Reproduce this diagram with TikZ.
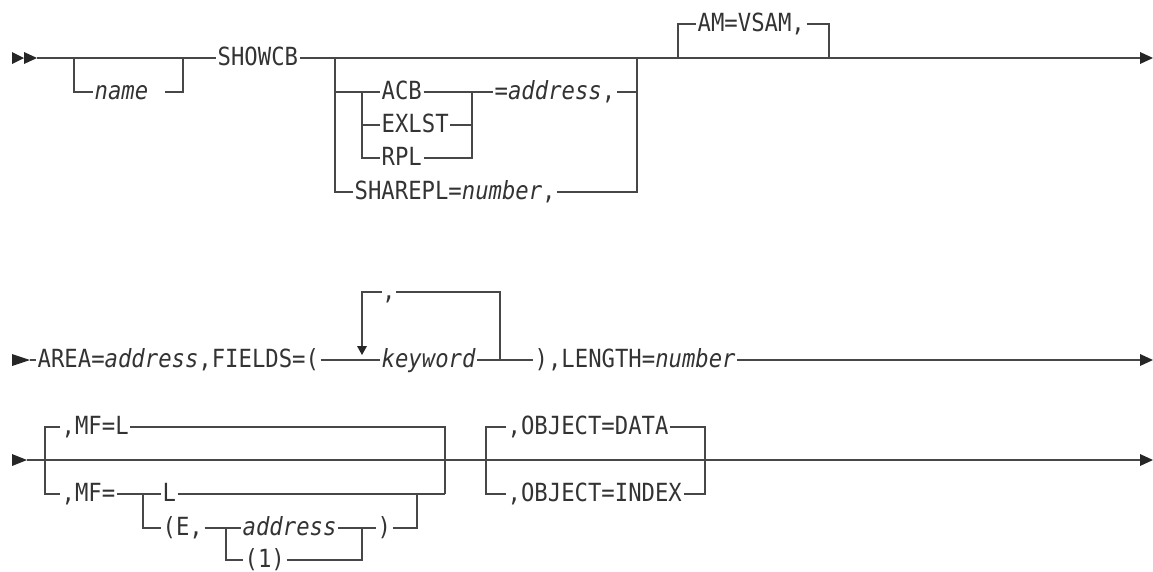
\documentclass[tikz,border=0pt]{standalone}
\usepackage{fontspec}
\setmonofont{DejaVu Sans Mono}[FakeStretch=0.89]
\definecolor{linec}{gray}{0.28}
\definecolor{txtc}{gray}{0.2}
\tikzset{
  kw/.style={anchor=west, inner xsep=1.5pt, inner ysep=0pt, text height=18pt, text depth=4pt,
    font=\ttfamily\fontsize{25}{30}\selectfont, text=txtc},
  rr/.style={line width=1.3pt, draw=linec, line cap=butt},
  tip/.style={fill=black!85, draw=none},
}
\begin{document}
\begin{tikzpicture}[x=1pt,y=-1pt]
\useasboundingbox (0,0) rectangle (1153,571);
% ---------------- row 1 ----------------
\fill[tip] (12,52) -- (24,58) -- (12,64) -- cycle;
\fill[tip] (24,52) -- (37,58) -- (24,64) -- cycle;
\coordinate (s1) at (37,58);
\coordinate (ja) at (74,58);
\node[kw] (name) at (93,92) {\itshape name};
\coordinate (n1) at (165,92);
\coordinate (n2) at (183,92);
\coordinate (n3) at (183,58);
\node[kw] (showcb) at (216,58) {SHOWCB};
\draw[rr] (s1) -- (showcb.west);
\draw[rr] (ja) |- (name.west);
\draw[rr] (n1) -- (n2) -- (n3);
\coordinate (e1) at (1141,58);
\draw[rr] (showcb.east) -- (e1);
\fill[tip] (1140,52) -- (1153,58) -- (1140,64) -- cycle;
% choice block
\coordinate (b1) at (335,58);
\coordinate (b1a) at (335,92);
\coordinate (b2) at (362,92);
\node[kw] (acb) at (380,92) {ACB};
\node[kw] (exlst) at (380,125) {EXLST};
\node[kw] (rpl) at (380,158) {RPL};
\node[kw] (share) at (353,192) {SHAREPL=\textit{number},};
\draw[rr] (b1) |- (share.west);
\draw[rr] (b1a) -- (acb.west);
\draw[rr] (b2) |- (exlst.west);
\draw[rr] (b2) |- (rpl.west);
\coordinate (c1) at (472,92);
\draw[rr] (acb.east) -- (c1);
\draw[rr] (exlst.east) -| (c1);
\draw[rr] (rpl.east) -| (c1);
\node[kw] (addr) at (493,92) {=\textit{address},};
\draw[rr] (c1) -- (addr.west);
\coordinate (c2) at (637,58);
\draw[rr] (addr.east) -| (c2);
\draw[rr] (share.east) -| (c2);
% AM=VSAM
\coordinate (d1) at (678,58);
\node[kw] (am) at (696,24) {AM=VSAM,};
\coordinate (d2) at (829,58);
\draw[rr] (d1) |- (am.west);
\draw[rr] (am.east) -| (d2);
% ---------------- row 2 ----------------
\fill[tip] (12,354) -- (30,360) -- (12,366) -- cycle;
\coordinate (s2) at (30,360);
\node[kw] (area) at (36,360) {AREA=\textit{address},FIELDS=(};
\draw[rr] (s2) -- (area.west);
\node[kw] (kwd) at (380,360) {\itshape keyword};
\draw[rr] (area.east) -- (kwd.west);
\coordinate (l1) at (362,292);
\coordinate (l0) at (362,347);
\node[kw, inner xsep=0pt] (comma) at (382,292) {,};
\coordinate (l2) at (500,292);
\coordinate (l3) at (500,360);
\draw[rr] (comma.east) -- (l2) -- (l3);
\draw[rr] (comma.west) -- (l1) -- (l0);
\fill[tip] (357,346) -- (367,346) -- (362,355) -- cycle;
\node[kw] (len) at (533,360) {),LENGTH=\textit{number}};
\draw[rr] (kwd.east) -- (len.west);
\coordinate (e2) at (1141,360);
\draw[rr] (len.east) -- (e2);
\fill[tip] (1140,354) -- (1153,360) -- (1140,366) -- cycle;
% ---------------- row 3 ----------------
\fill[tip] (12,454) -- (27,460) -- (12,466) -- cycle;
\coordinate (s3) at (27,460);
\coordinate (e3) at (1141,460);
\draw[rr] (s3) -- (e3);
\fill[tip] (1140,454) -- (1153,460) -- (1140,466) -- cycle;
\coordinate (m1) at (45,427);
\coordinate (m2) at (45,494);
\node[kw] (mfl) at (60,427) {,MF=L};
\node[kw] (mfe) at (60,494) {,MF=};
\draw[rr] (mfl.west) -- (m1) -- (m2) -- (mfe.west);
\coordinate (m3) at (445,427);
\coordinate (m4) at (445,494);
\draw[rr] (mfl.east) -- (m3) -- (m4);
\coordinate (g1) at (143,494);
\node[kw] (lopt) at (161,494) {L};
\node[kw] (eopt) at (161,528) {(E,};
\draw[rr] (mfe.east) -- (lopt.west);
\draw[rr] (g1) |- (eopt.west);
\draw[rr] (lopt.east) -- (m4);
\coordinate (h1) at (226,528);
\node[kw] (addr2) at (241,528) {\itshape address};
\node[kw] (one) at (243,560) {(1)};
\draw[rr] (eopt.east) -- (addr2.west);
\draw[rr] (h1) |- (one.west);
\coordinate (h2) at (362,528);
\draw[rr] (addr2.east) -- (h2);
\draw[rr] (one.east) -| (h2);
\node[kw] (rp) at (376,528) {)};
\draw[rr] (h2) -- (rp.west);
\coordinate (h3) at (417,528);
\coordinate (h4) at (417,494);
\draw[rr] (rp.east) -- (h3) -- (h4);
% OBJECT
\coordinate (o1) at (486,427);
\coordinate (o2) at (486,494);
\node[kw] (od) at (506,427) {,OBJECT=DATA};
\node[kw] (oi) at (506,494) {,OBJECT=INDEX};
\coordinate (o3) at (705,427);
\coordinate (o4) at (705,494);
\draw[rr] (od.west) -- (o1) -- (o2) -- (oi.west);
\draw[rr] (od.east) -- (o3) -- (o4) -- (oi.east);
\end{tikzpicture}
\end{document}
